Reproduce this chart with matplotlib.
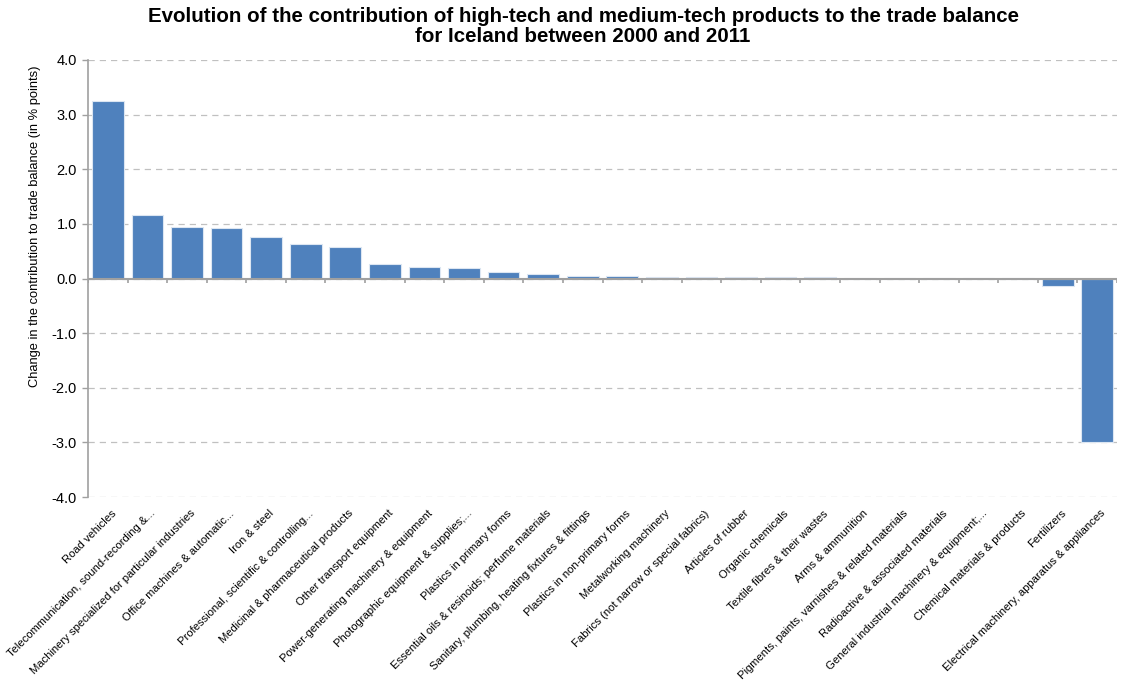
import matplotlib
matplotlib.use("Agg")
import matplotlib.pyplot as plt
import matplotlib.transforms as mtransforms
import numpy as np

products = [
    "Road vehicles",
    "Telecommunication, sound-recording &...",
    "Machinery specialized for particular industries",
    "Office machines & automatic...",
    "Iron & steel",
    "Professional, scientific & controlling...",
    "Medicinal & pharmaceutical products",
    "Other transport equipment",
    "Power-generating machinery & equipment",
    "Photographic equipment & supplies;...",
    "Plastics in primary forms",
    "Essential oils & resinoids; perfume materials",
    "Sanitary, plumbing, heating fixtures & fittings",
    "Plastics in non-primary forms",
    "Metalworking machinery",
    "Fabrics (not narrow or special fabrics)",
    "Articles of rubber",
    "Organic chemicals",
    "Textile fibres & their wastes",
    "Arms & ammunition",
    "Pigments, paints, varnishes & related materials",
    "Radioactive & associated materials",
    "General industrial machinery & equipment;...",
    "Chemical materials & products",
    "Fertilizers",
    "Electrical machinery, apparatus & appliances",
]
change = [3.24, 1.16, 0.95, 0.93, 0.76, 0.64, 0.57, 0.26, 0.22, 0.19,
          0.12, 0.08, 0.05, 0.05, 0.03, 0.03, 0.03, 0.03, 0.03, 0.01,
          0.01, 0.01, 0.01, 0.005, -0.13, -3.0]
yticks = [-4, -3, -2, -1, 0, 1, 2, 3, 4]

plt.rcParams["font.family"] = ["Liberation Sans", "DejaVu Sans"]

fig = plt.figure(figsize=(11.21, 6.81), dpi=100)
ax = fig.add_axes([0.0785, 0.270, 0.918, 0.642])

x = np.arange(len(products))
ax.bar(x, change, width=0.8, color="#4F81BD", edgecolor="#DCE6F2",
       linewidth=0.8, zorder=3)

ax.set_xlim(-0.5, len(products) - 0.5)
ax.set_ylim(-4, 4)
ax.set_yticks(yticks)
ax.set_yticklabels([f"{v:.1f}" for v in yticks], fontsize=10.5)
ax.yaxis.grid(True, linestyle=(0, (5, 4)), color="#C0C0C0", linewidth=0.9, zorder=0)

# zero line with category tick marks
ax.axhline(0, color="#A0A0A0", linewidth=1.5, zorder=4)
bounds = np.arange(len(products) + 1) - 0.5
ax.vlines(bounds, -0.09, 0, color="#A0A0A0", linewidth=1.2, zorder=4)

ax.set_xticks(x)
ax.set_xticklabels(products, rotation=45, ha="right", rotation_mode="anchor",
                   fontsize=8.1)
ax.tick_params(axis="x", length=0, pad=8)
ax.tick_params(axis="y", color="#A0A0A0", length=4, width=1, pad=4)
shift = mtransforms.ScaledTranslation(3 / 100, 0, fig.dpi_scale_trans)
for lbl in ax.get_xticklabels():
    lbl.set_transform(lbl.get_transform() + shift)

for s in ["top", "right", "bottom"]:
    ax.spines[s].set_visible(False)
ax.spines["left"].set_color("#A0A0A0")
ax.spines["left"].set_linewidth(1.2)

ax.set_ylabel("Change in the contribution to trade balance (in % points)", fontsize=9.3)
ax.yaxis.set_label_coords(-0.046, 0.62)

title_x = 583 / 1121
fig.text(title_x, 1 - 16 / 681, "Evolution of the contribution of high-tech and medium-tech products to the trade balance",
         ha="center", va="center", fontsize=14.8, fontweight="bold")
fig.text(title_x, 1 - 37 / 681, "for Iceland between 2000 and 2011",
         ha="center", va="center", fontsize=14.8, fontweight="bold")

fig.savefig("out.png", dpi=100)
plt.close(fig)
